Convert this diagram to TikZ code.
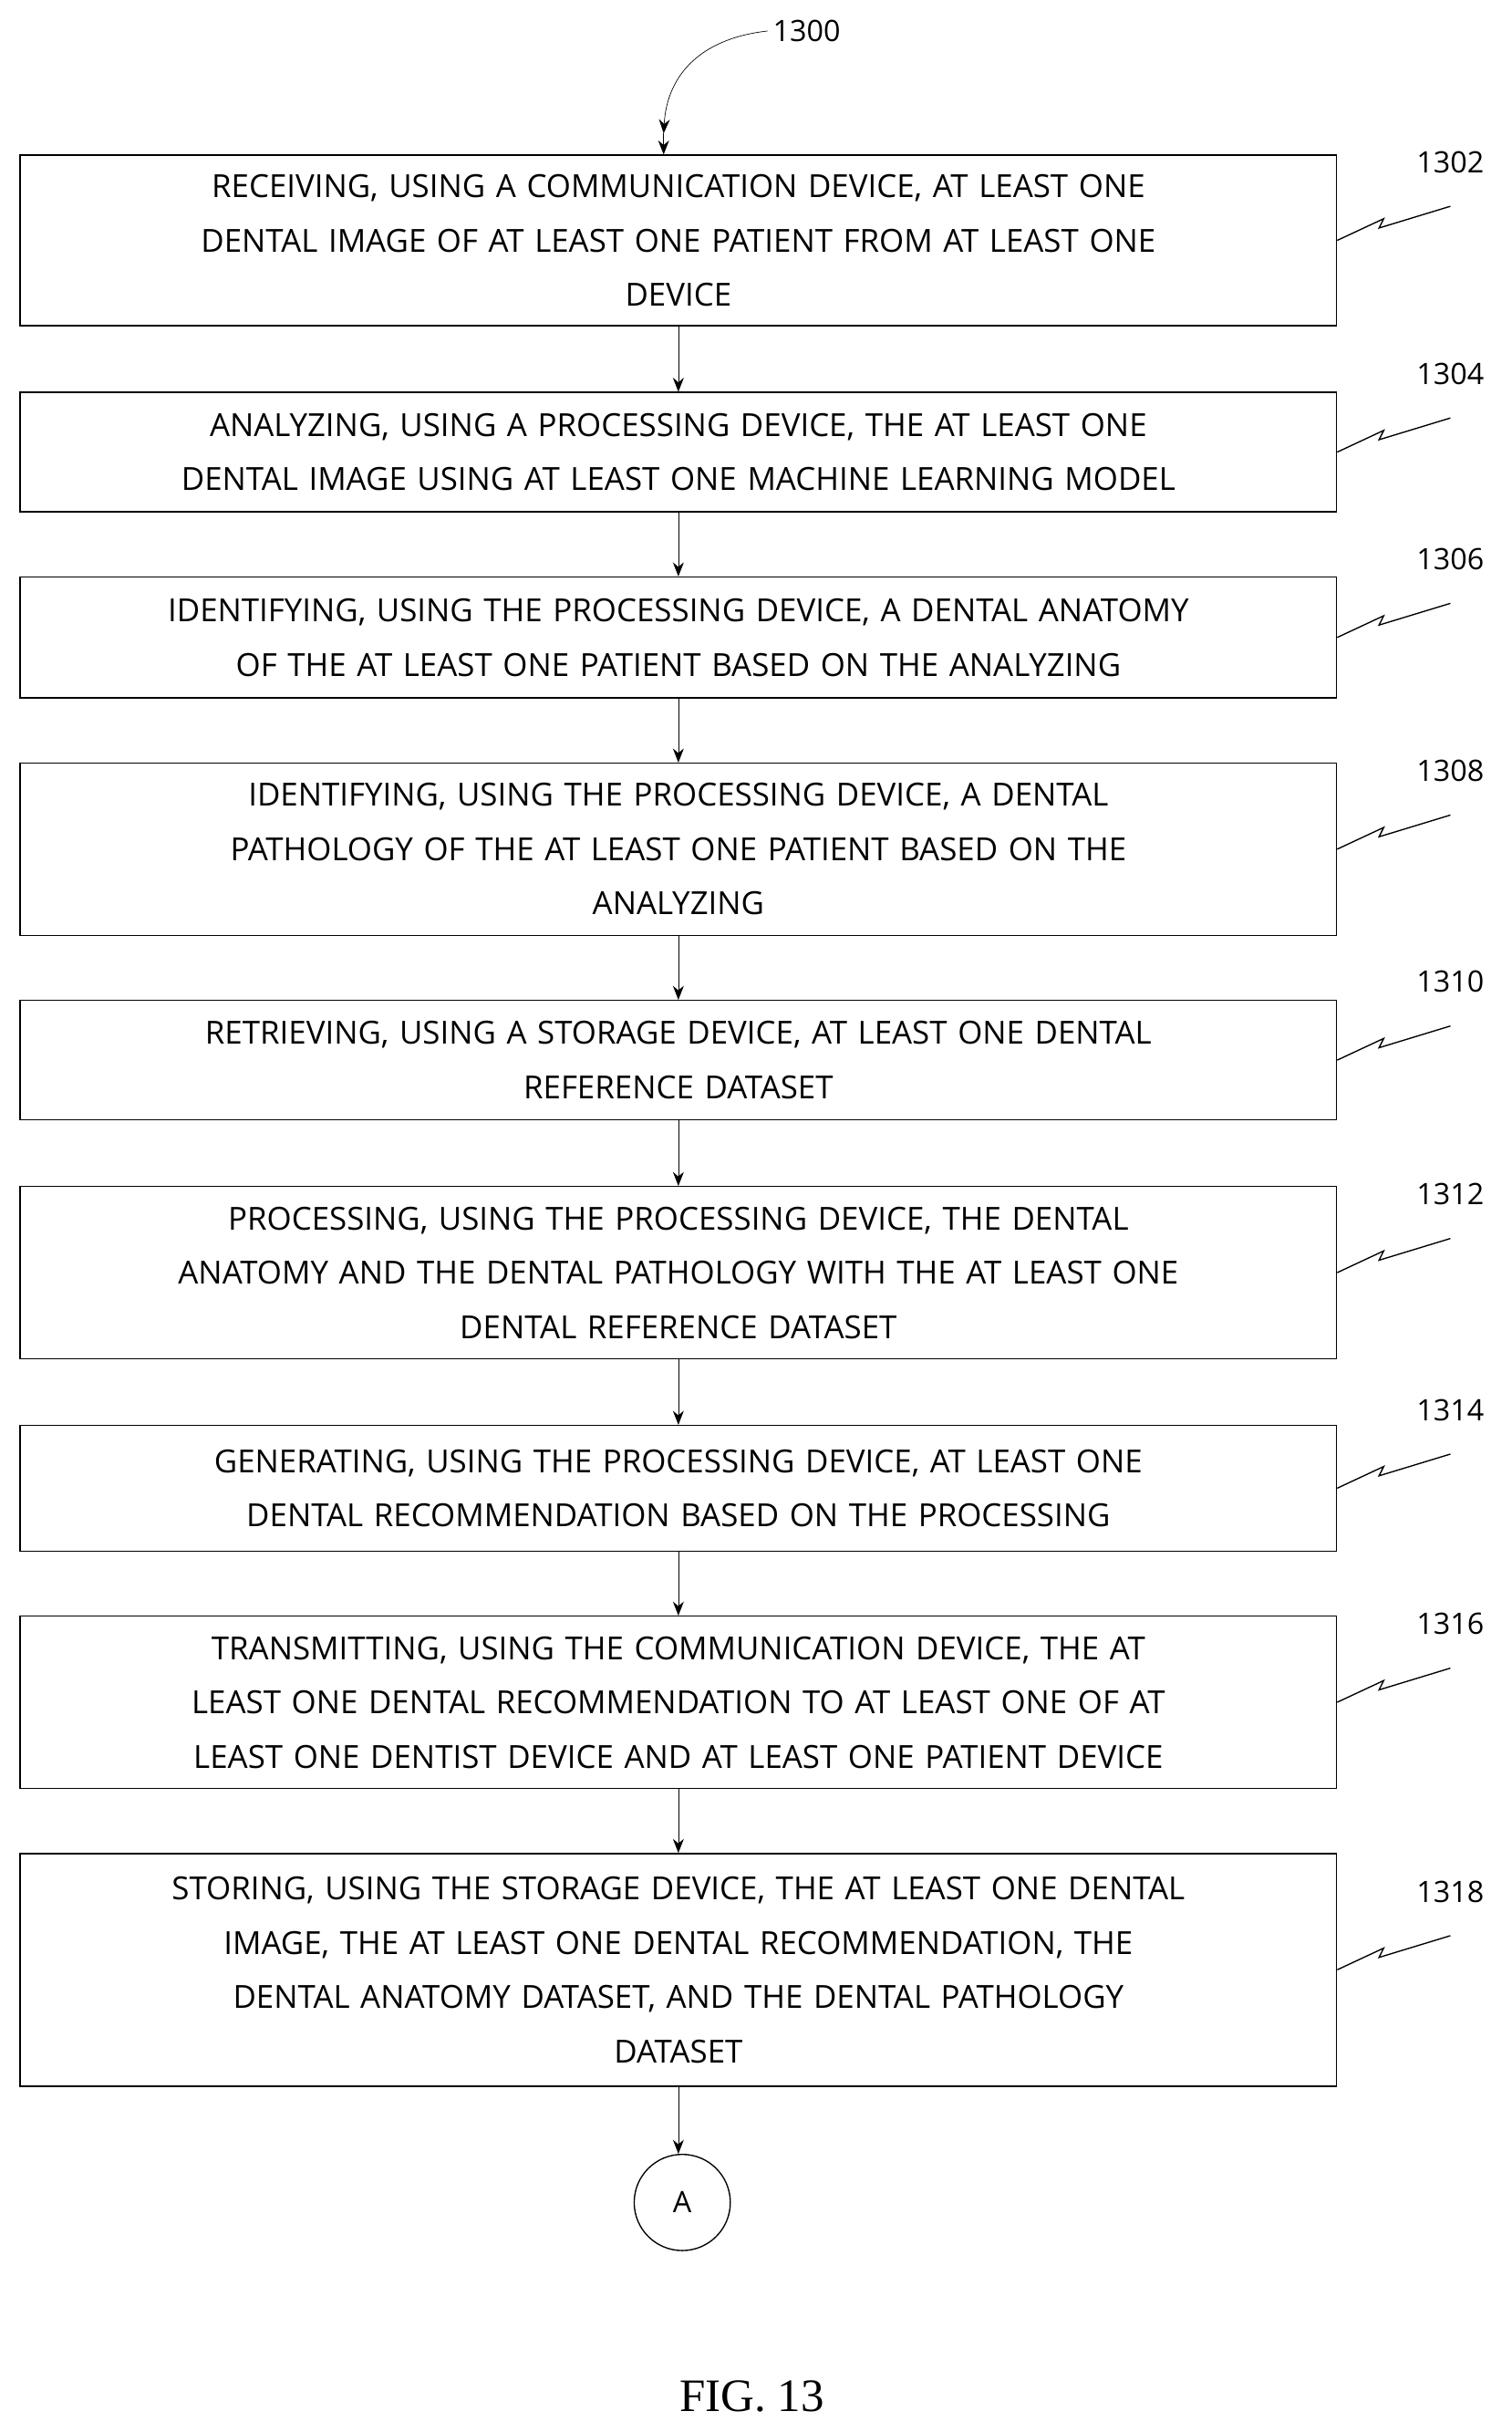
\documentclass[tikz,border=0pt]{standalone}
\usepackage{fontspec}
\setmainfont{Open Sans}
\newfontfamily\figfont{Liberation Serif}
\usetikzlibrary{arrows.meta}
\tikzset{
  stepbox/.style={draw, thick, text width=849pt, align=center, inner sep=0pt,
    font=\fontsize{20.5}{35}\selectfont},
  flow/.style={draw, -{Stealth[length=9pt,width=7pt]}},
  refnum/.style={font=\fontsize{19}{22}\selectfont, anchor=south}
}
\begin{document}
\begin{tikzpicture}[x=1pt,y=-1pt]
  \useasboundingbox (0,0) rectangle (975,1568);

  % label of the whole flow
  \node[refnum, anchor=west] (n1300) at (495,20) {1300};
  \coordinate (start) at (428,86);
  \draw[flow] (n1300.west) .. controls (450,25) and (430,50) .. (start);

  % steps
  \node[stepbox, minimum height=110pt] (s1302) at (437.5,155) {RECEIVING, USING A COMMUNICATION DEVICE, AT LEAST ONE\\ DENTAL IMAGE OF AT LEAST ONE PATIENT FROM AT LEAST ONE\\ DEVICE};
  \node[stepbox, minimum height=77pt] (s1304) at (437.5,291.5) {ANALYZING, USING A PROCESSING DEVICE, THE AT LEAST ONE\\ DENTAL IMAGE USING AT LEAST ONE MACHINE LEARNING MODEL};
  \node[stepbox, minimum height=78pt] (s1306) at (437.5,411) {IDENTIFYING, USING THE PROCESSING DEVICE, A DENTAL ANATOMY\\ OF THE AT LEAST ONE PATIENT BASED ON THE ANALYZING};
  \node[stepbox, minimum height=111pt] (s1308) at (437.5,547.5) {IDENTIFYING, USING THE PROCESSING DEVICE, A DENTAL\\ PATHOLOGY OF THE AT LEAST ONE PATIENT BASED ON THE\\ ANALYZING};
  \node[stepbox, minimum height=77pt] (s1310) at (437.5,683.5) {RETRIEVING, USING A STORAGE DEVICE, AT LEAST ONE DENTAL\\ REFERENCE DATASET};
  \node[stepbox, minimum height=111pt] (s1312) at (437.5,820.5) {PROCESSING, USING THE PROCESSING DEVICE, THE DENTAL\\ ANATOMY AND THE DENTAL PATHOLOGY WITH THE AT LEAST ONE\\ DENTAL REFERENCE DATASET};
  \node[stepbox, minimum height=81pt] (s1314) at (437.5,959.5) {GENERATING, USING THE PROCESSING DEVICE, AT LEAST ONE\\ DENTAL RECOMMENDATION BASED ON THE PROCESSING};
  \node[stepbox, minimum height=111pt] (s1316) at (437.5,1097.5) {TRANSMITTING, USING THE COMMUNICATION DEVICE, THE AT\\ LEAST ONE DENTAL RECOMMENDATION TO AT LEAST ONE OF AT\\ LEAST ONE DENTIST DEVICE AND AT LEAST ONE PATIENT DEVICE};
  \node[stepbox, minimum height=150pt] (s1318) at (437.5,1270) {STORING, USING THE STORAGE DEVICE, THE AT LEAST ONE DENTAL\\ IMAGE, THE AT LEAST ONE DENTAL RECOMMENDATION, THE\\ DENTAL ANATOMY DATASET, AND THE DENTAL PATHOLOGY\\ DATASET};
  \node[draw, thick, circle, minimum size=62pt, inner sep=0pt,
    font=\fontsize{19}{22}\selectfont] (conA) at (440,1420) {A};

  \node[font=\fontsize{30}{34}\selectfont\figfont] (fig) at (485,1545) {FIG. 13};

  % arrows
  \draw[flow] (start) -- (s1302.north -| start);
  \foreach \a/\b in {1302/1304,1304/1306,1306/1308,1308/1310,1310/1312,
                     1312/1314,1314/1316,1316/1318}
    \draw[flow] (s\a.south) -- (s\b.north);
  \draw[flow] (s1318.south) -- (conA.north -| s1318.south);

  % reference numerals
  \foreach \n in {1302,1304,1306,1308,1310,1312,1314,1316,1318} {
    \coordinate (z\n) at ([xshift=73pt,yshift=22pt]s\n.east);
    \draw[thick] (s\n.east) -- ++(30,-14) -- ++(-3,6) -- (z\n);
    \node[refnum] (r\n) at ([yshift=18pt]z\n) {\n};
  }
\end{tikzpicture}
\end{document}
